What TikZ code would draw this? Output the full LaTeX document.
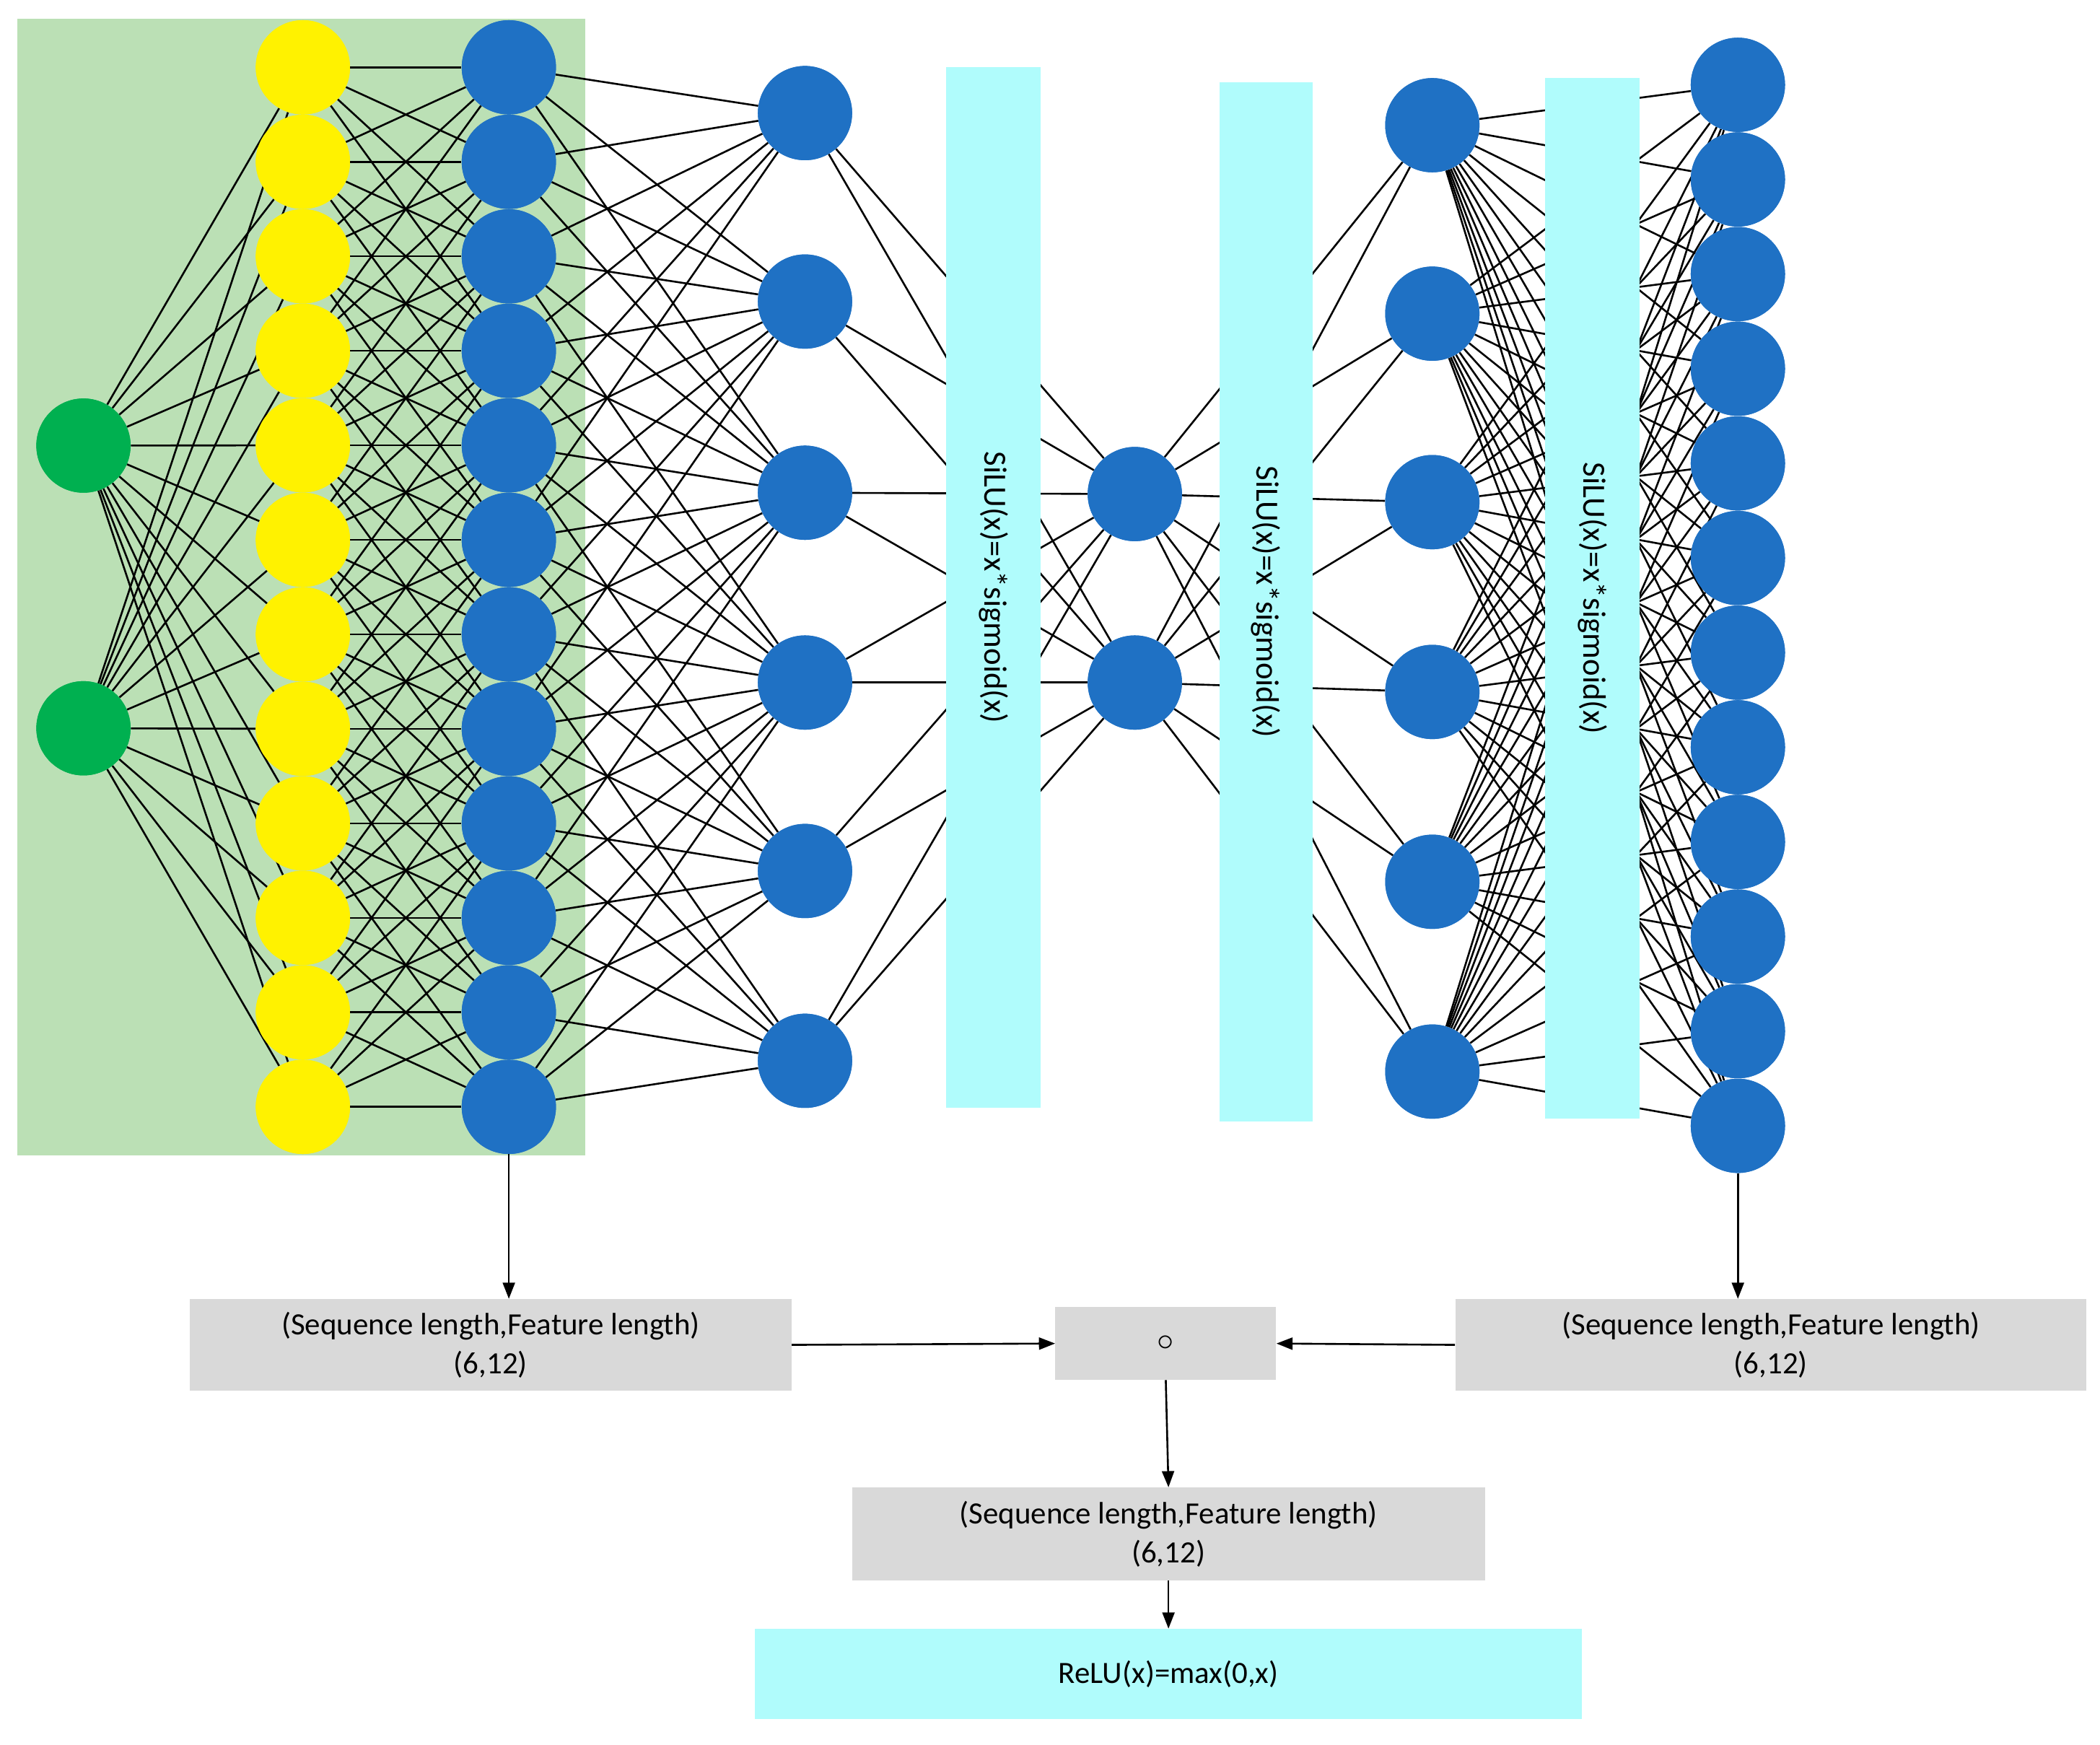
\documentclass[tikz,border=0pt]{standalone}
\usepackage{fontspec}
\setmainfont{Carlito}
\usetikzlibrary{arrows.meta}
\definecolor{bgg}{HTML}{BBE0B5}
\definecolor{gn}{HTML}{00B050}
\definecolor{bl}{HTML}{1F71C4}
\definecolor{cy}{HTML}{B0FCFC}
\definecolor{gr}{HTML}{D9D9D9}
\begin{document}
\begin{tikzpicture}[x=1pt,y=-1pt,
  nd/.style={circle,minimum size=70pt,inner sep=0pt},
  gnd/.style={nd,fill=gn}, ynd/.style={nd,fill=yellow}, bnd/.style={nd,fill=bl},
  ed/.style={line width=1.4pt,black},
  box/.style={fill=cy,draw=none},
  gbox/.style={fill=gr,draw=none,align=center,font=\fontsize{23}{29}\selectfont},
  arr/.style={line width=1.4pt,-{Triangle[length=12pt,width=9pt]}},
  silu/.style={rotate=-90,font=\fontsize{24}{28}\selectfont}]
\useasboundingbox (0,0) rectangle (1560,1296);
\fill[bgg] (13,14) rectangle (435,858);
% nodes
\foreach \y [count=\i] in {331,541} \node[gnd] (g\i) at (62,\y) {};
\foreach \i in {1,...,12} {
  \node[ynd] (y\i) at (225,{50+70.2*(\i-1)}) {};
  \node[bnd] (a\i) at (378,{50+70.2*(\i-1)}) {};
  \node[bnd] (e\i) at (1291,{63+70.3*(\i-1)}) {};}
\foreach \y [count=\i] in {84,224,366,507,647,788} \node[bnd] (b\i) at (598,\y) {};
\foreach \y [count=\i] in {367,507} \node[bnd] (c\i) at (843,\y) {};
\foreach \y [count=\i] in {93,233,373,514,655,796} \node[bnd] (d\i) at (1064,\y) {};
% edges
\begin{scope}[on background layer/.style={}]
\foreach \g in {1,2} \foreach \i in {1,...,12} \draw[ed] (g\g) -- (y\i);
\foreach \i in {1,...,12} \foreach \j in {1,...,12} {
  \pgfmathtruncatemacro\dd{abs(\i-\j)}
  \ifnum\dd<4 \draw[ed] (y\i) -- (a\j); \fi}
\foreach \i in {1,...,12} \foreach \j in {1,...,6} {
  \pgfmathtruncatemacro\dd{abs(\i-2*\j+0.5)}
  \ifnum\dd<5 \draw[ed] (a\i) -- (b\j); \fi}
\foreach \i in {1,...,6} \foreach \j in {1,2} {\draw[ed] (b\i) -- (c\j); \draw[ed] (c\j) -- (d\i);}
\foreach \i in {1,...,6} \foreach \j in {1,...,12} \draw[ed] (d\i) -- (e\j);
\end{scope}
% redraw nodes on top
\foreach \y [count=\i] in {331,541} \node[gnd] at (62,\y) {};
\foreach \i in {1,...,12} {
  \node[ynd] at (225,{50+70.2*(\i-1)}) {};
  \node[bnd] at (378,{50+70.2*(\i-1)}) {};
  \node[bnd] at (1291,{63+70.3*(\i-1)}) {};}
\foreach \y [count=\i] in {84,224,366,507,647,788} \node[bnd] at (598,\y) {};
\foreach \y [count=\i] in {367,507} \node[bnd] at (843,\y) {};
\foreach \y [count=\i] in {93,233,373,514,655,796} \node[bnd] at (1064,\y) {};
% SiLU boxes
\node[box,minimum width=70pt,minimum height=773pt,inner sep=0pt] (s1) at (738,436.5) {};
\node[silu] at (s1) {SiLU(x)=x*sigmoid(x)};
\node[box,minimum width=69pt,minimum height=772pt,inner sep=0pt] (s2) at (940.5,447) {};
\node[silu] at (s2) {SiLU(x)=x*sigmoid(x)};
\node[box,minimum width=70pt,minimum height=773pt,inner sep=0pt] (s3) at (1183,444.5) {};
\node[silu] at (s3) {SiLU(x)=x*sigmoid(x)};
% bottom boxes
\node[gbox,minimum width=447pt,minimum height=68pt] (A) at (364.5,999) {(Sequence length,Feature length)\\(6,12)};
\node[gbox,minimum width=164pt,minimum height=54pt] (B) at (866,998) {\fontsize{30}{30}\selectfont\textbf{$\circ$}};
\node[gbox,minimum width=469pt,minimum height=68pt] (C) at (1315.5,999) {(Sequence length,Feature length)\\(6,12)};
\node[gbox,minimum width=470pt,minimum height=69pt] (D) at (868,1139.5) {(Sequence length,Feature length)\\(6,12)};
\node[box,minimum width=614pt,minimum height=67pt,font=\fontsize{23}{28}\selectfont] (E) at (868,1243.5) {ReLU(x)=max(0,x)};
\draw[arr] (a12) -- (a12 |- A.north);
\draw[arr] (e12) -- (e12 |- C.north);
\draw[arr] (A.east) -- (B.west);
\draw[arr] (C.west) -- (B.east);
\draw[arr] (B.south) -- (D.north);
\draw[arr] (D.south) -- (E.north);
\end{tikzpicture}
\end{document}
